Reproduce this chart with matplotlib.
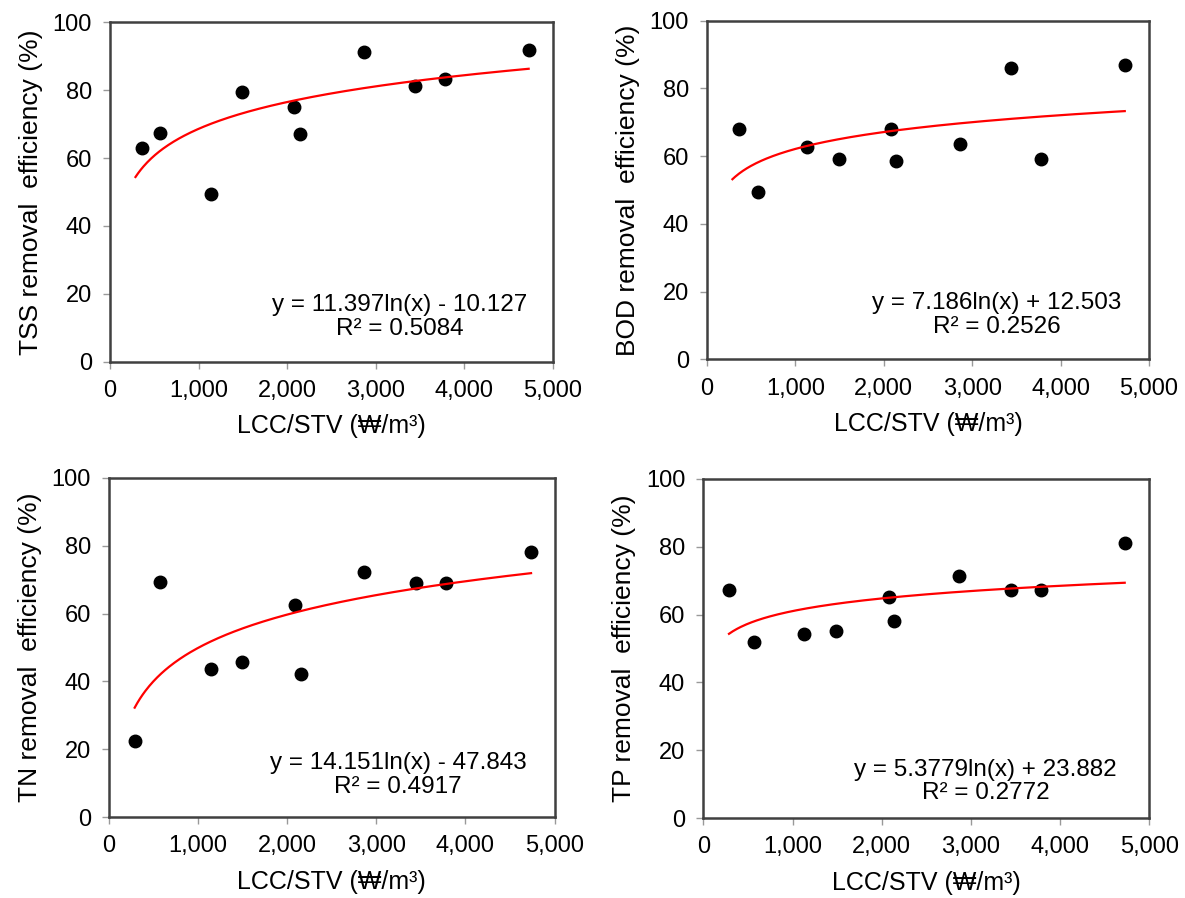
import numpy as np
import matplotlib.pyplot as plt
from matplotlib.ticker import FuncFormatter

plt.rcParams['font.family'] = ['Liberation Sans', 'DejaVu Sans']

# LCC/STV (won/m3) per facility
x_tss = [362, 569, 1141, 1496, 2081, 2145, 2863, 3440, 3782, 4726]
x_bod = [362, 572, 1136, 1490, 2083, 2138, 2862, 3439, 3775, 4726]
x_tn = [288, 569, 1142, 1494, 2083, 2151, 2865, 3446, 3786, 4736]
x_tp = [289, 569, 1134, 1490, 2084, 2142, 2862, 3444, 3782, 4724]

# removal efficiency (%)
y_tss = [62.9, 67.5, 49.5, 79.6, 75.0, 67.0, 91.1, 81.2, 83.3, 91.8]
y_bod = [68.0, 49.3, 62.8, 59.2, 67.9, 58.5, 63.7, 85.9, 59.2, 86.8]
y_tn = [22.5, 69.2, 43.6, 45.6, 62.6, 42.2, 72.3, 68.9, 68.9, 78.2]
y_tp = [67.1, 51.9, 54.2, 55.1, 65.3, 58.2, 71.4, 67.3, 67.3, 81.0]

# log trendline coefficients as printed on the chart: y = a ln(x) + b
coef = {'TSS': (11.397, -10.127), 'BOD': (7.186, 12.503),
        'TN': (14.151, -47.843), 'TP': (5.3779, 23.882)}
eqs = {'TSS': 'y = 11.397ln(x) - 10.127\nR\u00b2 = 0.5084',
       'BOD': 'y = 7.186ln(x) + 12.503\nR\u00b2 = 0.2526',
       'TN': 'y = 14.151ln(x) - 47.843\nR\u00b2 = 0.4917',
       'TP': 'y = 5.3779ln(x) + 23.882\nR\u00b2 = 0.2772'}

panels = [
    ('TSS', x_tss, y_tss, [0.0928, 0.5972, 0.3738, 0.378], (0.655, 0.132)),
    ('BOD', x_bod, y_bod, [0.5966, 0.5997, 0.3730, 0.3773], (0.656, 0.131)),
    ('TN', x_tn, y_tn, [0.0920, 0.0899, 0.3760, 0.378], (0.649, 0.124)),
    ('TP', x_tp, y_tp, [0.5935, 0.0888, 0.3764, 0.378], (0.633, 0.108)),
]

x_lo = min(x_tss + x_bod + x_tn + x_tp)

fig = plt.figure(figsize=(11.85, 8.98), dpi=100)

for name, xv, yv, pos, tpos in panels:
    ax = fig.add_axes(pos)
    ax.plot(xv, yv, 'o', color='black', ms=9, zorder=2)
    a, b = coef[name]
    xs = np.linspace(x_lo, max(xv), 300)
    ax.plot(xs, a*np.log(xs)+b, color='red', lw=1.6, zorder=3)

    ax.set_xlim(0, 5000)
    ax.set_ylim(0, 100)
    ax.set_xticks(range(0, 5001, 1000))
    ax.set_yticks(range(0, 101, 20))
    ax.xaxis.set_major_formatter(FuncFormatter(lambda v, p: '{:,}'.format(int(v))))
    ax.tick_params(direction='out', length=5, width=1, color='#999999',
                   labelsize=17, pad=8, labelcolor='black')
    for s in ax.spines.values():
        s.set_linewidth(1.8)
        s.set_color('#404040')

    ax.set_xlabel('LCC/STV (\u20a9/m\u00b3)', fontsize=18, labelpad=9)
    ax.set_ylabel(name + ' removal  efficiency (%)', fontsize=19, labelpad=7)
    ax.text(tpos[0], tpos[1], eqs[name], transform=ax.transAxes,
            ha='center', va='center', multialignment='center', fontsize=17.5,
            linespacing=1.1)

fig.savefig('out.png', dpi=100)
